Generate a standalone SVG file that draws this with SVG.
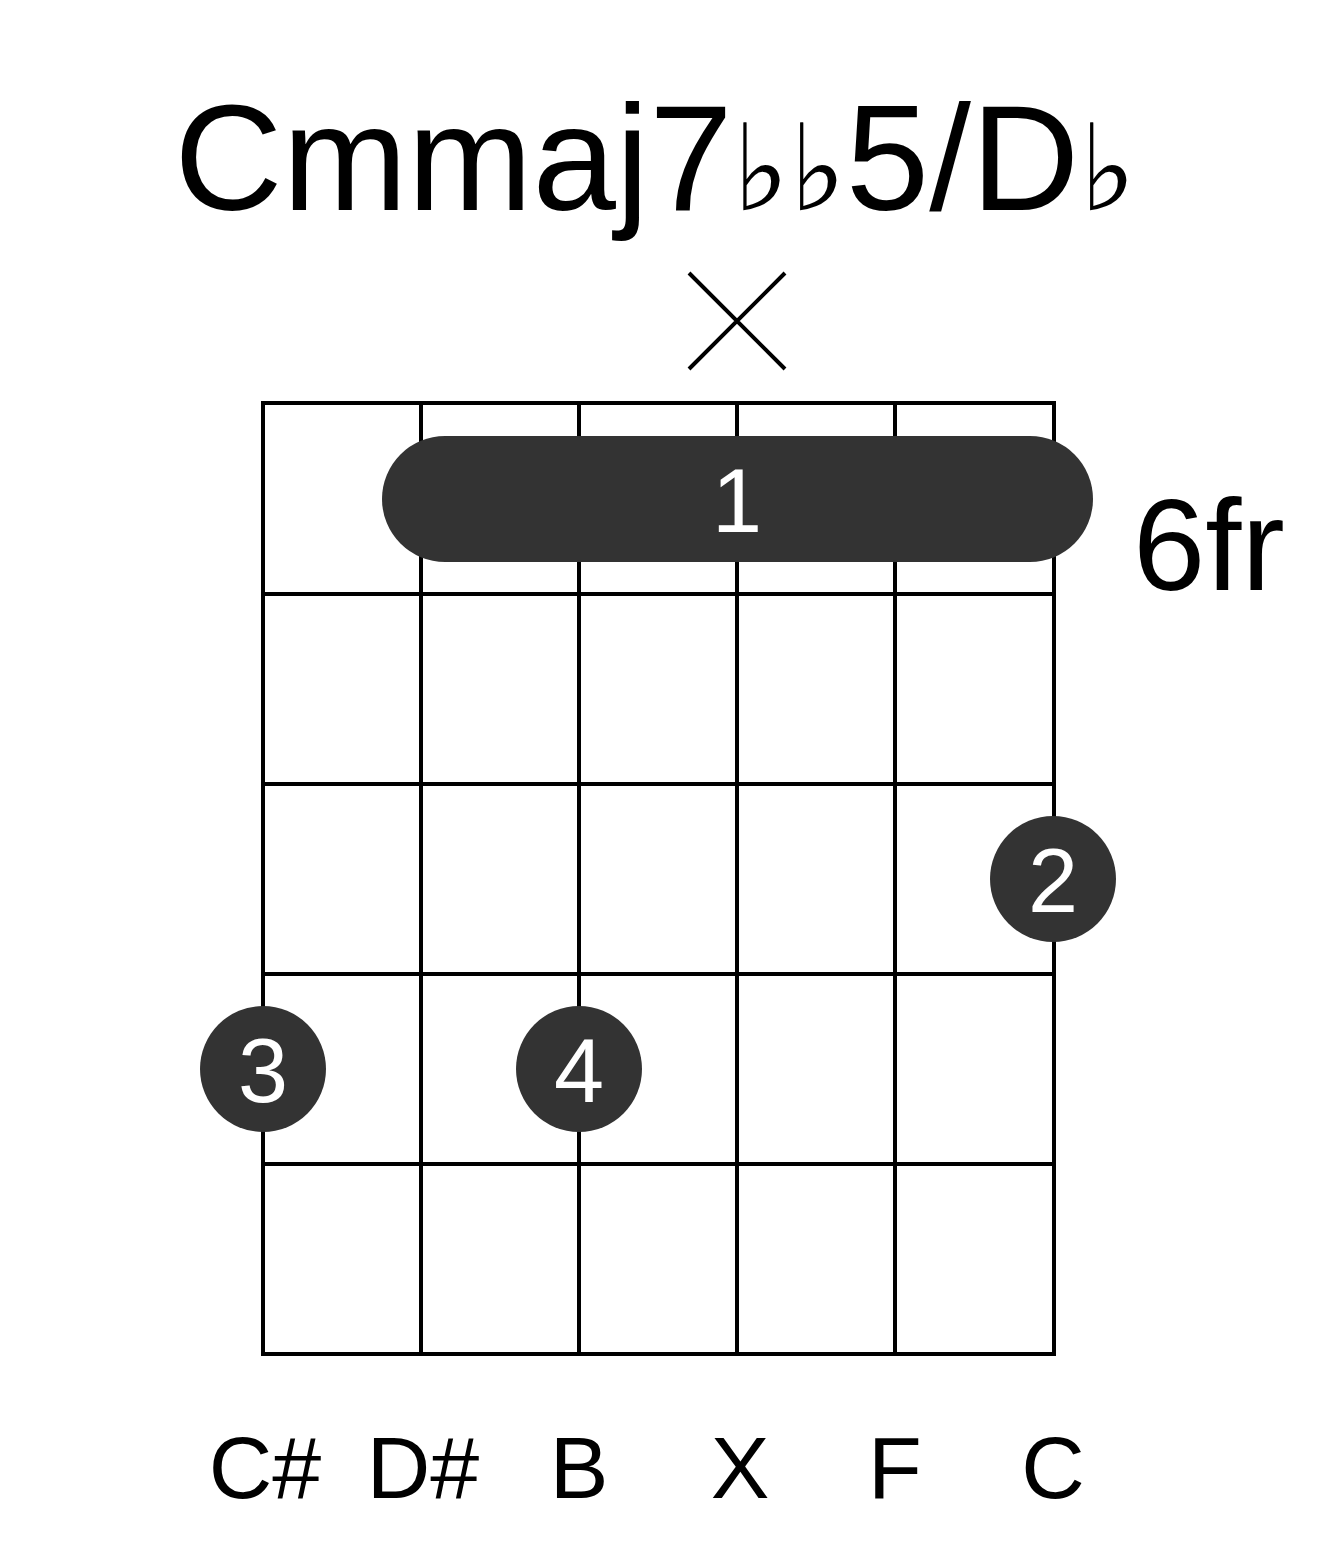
<svg xmlns="http://www.w3.org/2000/svg" width="1317" height="1551" viewBox="0 0 1317 1551">
<style>
.t{font-family:"Liberation Sans",Arial,sans-serif;fill:#000}
.g{stroke:#000;stroke-width:4;fill:none}
.dot{fill:#333}
.w{font-family:"Liberation Sans",Arial,sans-serif;fill:#fff;font-size:90px;text-anchor:middle}
.lab{font-family:"Liberation Sans",Arial,sans-serif;font-size:88px;text-anchor:middle}
</style>
<rect width="1317" height="1551" fill="#fff"/>
<text id="title" class="t" x="655" y="210" font-size="150" text-anchor="middle">Cmmaj7<tspan font-family="DejaVu Sans,sans-serif" font-size="120">♭♭</tspan>5/D<tspan font-family="DejaVu Sans,sans-serif" font-size="120">♭</tspan></text>
<g id="grid" class="g">
<rect x="263" y="403" width="791" height="951"/>
<path d="M421 403V1354M579 403V1354M737 403V1354M895 403V1354M263 594H1054M263 784H1054M263 974H1054M263 1164H1054"/>
</g>
<g id="mute" stroke="#000" stroke-width="4"><path d="M689 273L785 369M689 369L785 273"/></g>
<g id="barre"><rect class="dot" x="382" y="436" width="711" height="126" rx="63"/><text class="w" x="737" y="532">1</text></g>
<g id="f2"><circle class="dot" cx="1053" cy="879" r="63"/><text class="w" x="1053" y="912">2</text></g>
<g id="f3"><circle class="dot" cx="263" cy="1069" r="63"/><text class="w" x="263" y="1102">3</text></g>
<g id="f4"><circle class="dot" cx="579" cy="1069" r="63"/><text class="w" x="579" y="1102">4</text></g>
<text id="fret" class="t" x="1133" y="590" font-size="130">6fr</text>
<g id="labels">
<text class="lab" x="265" y="1498">C#</text>
<text class="lab" x="423" y="1498">D#</text>
<text class="lab" x="579" y="1498">B</text>
<text class="lab" x="740" y="1498">X</text>
<text class="lab" x="895" y="1498">F</text>
<text class="lab" x="1053" y="1498">C</text>
</g>
</svg>
